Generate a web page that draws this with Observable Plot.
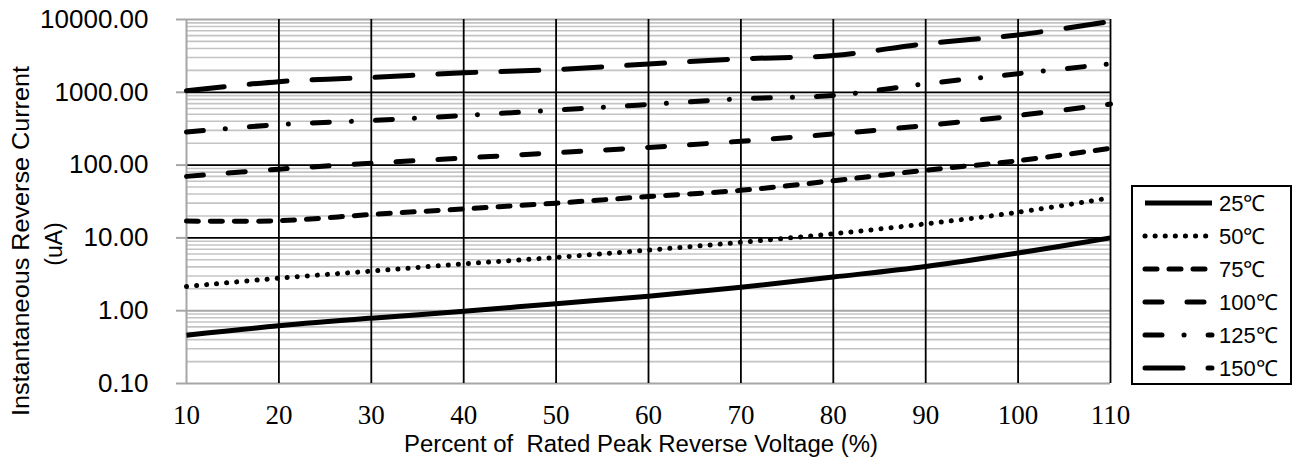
<!DOCTYPE html>
<html>
<head>
<meta charset="utf-8">
<script src="https://cdn.jsdelivr.net/npm/d3@7"></script>
<script src="https://cdn.jsdelivr.net/npm/@observablehq/plot@0.6"></script>
<style>
  html, body { margin: 0; padding: 0; background: #fff; }
  #wrap { position: relative; width: 1295px; height: 461px; overflow: hidden; }
  #legend { position: absolute; left: 1131px; top: 185px; width: 161px; height: 200px; box-sizing: border-box; border: 2px solid #000; background: #fff; }
  svg g[aria-label="x-axis tick label"] { font-family: "Liberation Serif", serif; font-size: 27px; }
  svg g[aria-label="y-axis tick label"] { font-family: "Liberation Sans", sans-serif; font-size: 26px; }
</style>
</head>
<body>
<div id="wrap"><div id="chart"></div><div id="legend"></div></div>
<script>
// ---- data ----
const xValues = [10, 20, 30, 40, 50, 60, 70, 80, 90, 100, 110];
const seriesNames = ["25℃", "50℃", "75℃", "100℃", "125℃", "150℃"];
const s25  = [0.46, 0.62, 0.79, 0.98, 1.25, 1.58, 2.1, 2.9, 4.05, 6.2, 10];
const s50  = [2.15, 2.8, 3.5, 4.4, 5.4, 6.8, 8.7, 11.4, 15.6, 22.5, 35.5];
const s75  = [17, 17.2, 21, 25, 30, 37, 45, 61, 85, 115, 170];
const s100 = [70, 88, 106, 125, 148, 175, 213, 268, 350, 480, 690];
const s125 = [285, 360, 410, 480, 570, 680, 815, 905, 1310, 1800, 2460];
const s150 = [1050, 1400, 1600, 1850, 2050, 2450, 2880, 3200, 4650, 6150, 9400];
const seriesValues = [s25, s50, s75, s100, s125, s150];
const xTicks = [10, 20, 30, 40, 50, 60, 70, 80, 90, 100, 110];
const yTicks = [0.1, 1, 10, 100, 1000, 10000];
const xLabel = "Percent of  Rated Peak Reverse Voltage (%)";
const yLabel1 = "Instantaneous Reverse Current";
const yLabel2 = "(uA)";

// ---- styles ----
const dashes = [null, "0.1,10", "12,12", "17,25", "17,22,0.1,24", "38,25"];
const caps = ["butt", "round", "round", "round", "round", "round"];

const rows = [];
seriesNames.forEach((name, si) => {
  seriesValues[si].forEach((v, i) => rows.push({series: name, x: xValues[i], y: v}));
});

// minor log grid (2..9 per decade)
const minor = [];
for (let k = -1; k < 4; k++) for (let m = 2; m <= 9; m++) minor.push(m * Math.pow(10, k));

const marks = [
  Plot.ruleY(minor, {stroke: "#c4c4c4", strokeWidth: 1.6}),
  Plot.ruleY([10, 100, 1000], {stroke: "#000", strokeWidth: 1.8}),
  Plot.ruleY([0.1, 1, 10000], {stroke: "#a6a6a6", strokeWidth: 2}),
  Plot.ruleX(xTicks.filter(d => d > 10), {stroke: "#000", strokeWidth: 1.8}),
  Plot.ruleX([10], {stroke: "#a6a6a6", strokeWidth: 2})
];
seriesNames.forEach((name, si) => {
  marks.push(Plot.line(rows.filter(r => r.series === name), {
    x: "x", y: "y", stroke: "#000", strokeWidth: 5,
    strokeDasharray: dashes[si] || undefined,
    strokeLinecap: caps[si],
    curve: "catmull-rom"
  }));
});

const chart = Plot.plot({
  width: 1295,
  height: 461,
  marginLeft: 186,
  marginRight: 185,
  marginTop: 19,
  marginBottom: 78,
  style: {fontFamily: "Liberation Sans, sans-serif", color: "#000", background: "#fff", overflow: "visible"},
  x: {domain: [10, 110], ticks: xTicks, tickSize: 0, tickPadding: 21, label: null, tickFormat: d => String(d)},
  y: {type: "log", domain: [0.1, 10000], ticks: yTicks, tickSize: 10, tickPadding: 28, label: null, tickFormat: d => d.toFixed(2)},
  marks
});
document.getElementById("chart").appendChild(chart);

const svg = d3.select(chart);
svg.selectAll('g[aria-label="y-axis tick"]').attr("stroke", "#a6a6a6").attr("stroke-width", 2);

svg.append("text")
  .attr("transform", "translate(21,241) rotate(-90)")
  .attr("text-anchor", "middle").attr("dominant-baseline", "central")
  .attr("textLength", 350).attr("lengthAdjust", "spacingAndGlyphs")
  .style("font", "23px 'Liberation Sans', sans-serif").attr("fill", "#000")
  .text(yLabel1);
svg.append("text")
  .attr("transform", "translate(54,244) rotate(-90)")
  .attr("text-anchor", "middle").attr("dominant-baseline", "central")
  .style("font", "23px 'Liberation Sans', sans-serif").attr("fill", "#000")
  .text(yLabel2);
svg.append("text")
  .attr("x", 641).attr("y", 452)
  .attr("text-anchor", "middle")
  .attr("textLength", 474).attr("lengthAdjust", "spacingAndGlyphs")
  .style("font", "23px 'Liberation Sans', sans-serif").style("white-space", "pre").attr("fill", "#000")
  .text(xLabel);

// ---- legend ----
const lg = d3.select("#legend").append("svg").attr("width", 157).attr("height", 196);
seriesNames.forEach((name, si) => {
  const cy = 16 + 33 * si;
  lg.append("line").attr("x1", 12).attr("x2", 79).attr("y1", cy).attr("y2", cy)
    .attr("stroke", "#000").attr("stroke-width", 5)
    .attr("stroke-dasharray", dashes[si])
    .attr("stroke-linecap", caps[si]);
  lg.append("text").attr("x", 86).attr("y", cy).attr("dominant-baseline", "central")
    .style("font", "22px 'Liberation Sans', sans-serif").attr("fill", "#000")
    .text(name);
});
</script>
</body>
</html>
